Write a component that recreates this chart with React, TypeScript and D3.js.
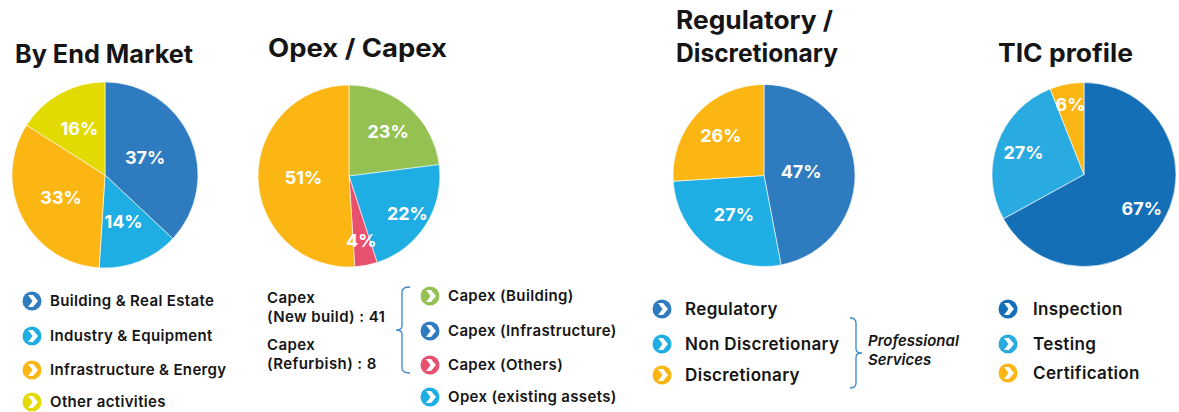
import * as d3 from "d3";

// By End Market
const marketLabels = ["Building & Real Estate", "Industry & Equipment", "Infrastructure & Energy", "Other activities"];
const marketValues = [37, 14, 33, 16];
const marketColors = ["#2E7BC0", "#1EAEE3", "#FBB614", "#E2DA00"];

// Opex / Capex
const capexSliceValues = [23, 22, 4, 51];
const capexSliceColors = ["#95C152", "#1EAEE3", "#E8506F", "#FBB614"];
const capexLabels = ["Capex (Building)", "Capex (Infrastructure)", "Capex (Others)", "Opex (existing assets)"];
const capexLegendColors = ["#95C152", "#2E7BC0", "#E8506F", "#1EAEE3"];
const capexNotes = [["Capex", "(New build) : 41"], ["Capex", "(Refurbish) : 8"]];

// Regulatory / Discretionary
const regLabels = ["Regulatory", "Non Discretionary", "Discretionary"];
const regValues = [47, 27, 26];
const regColors = ["#2E7BC0", "#1EAEE3", "#FBB614"];
const regNote = ["Professional", "Services"];

// TIC profile
const ticLabels = ["Inspection", "Testing", "Certification"];
const ticValues = [67, 27, 6];
const ticColors = ["#156FB7", "#29AAE1", "#FBB614"];

const FONT = "Inter, 'Open Sans', sans-serif";
const INK = "#151515";

type PieProps = {
  cx: number;
  cy: number;
  r: number;
  values: number[];
  colors: string[];
  labelR: number[];
};

function Pie({ cx, cy, r, values, colors, labelR }: PieProps) {
  const arcs = d3.pie<number>().sort(null).value((d) => d)(values);
  const arc = d3.arc<d3.PieArcDatum<number>>().innerRadius(0).outerRadius(r);
  return (
    <g transform={`translate(${cx},${cy})`}>
      {arcs.map((a, i) => (
        <path key={i} d={arc(a) || ""} fill={colors[i]} stroke="#fff" strokeWidth={0.6} />
      ))}
      {arcs.map((a, i) => {
        const mid = (a.startAngle + a.endAngle) / 2;
        const rr = r * labelR[i];
        return (
          <text
            key={"t" + i}
            x={Math.sin(mid) * rr}
            y={-Math.cos(mid) * rr}
            dy="0.36em"
            textAnchor="middle"
            fill="#fff"
            fontFamily={FONT}
            fontWeight={700}
            fontSize={18}
          >
            {values[i]}%
          </text>
        );
      })}
    </g>
  );
}

function Icon({ x, y, color }: { x: number; y: number; color: string }) {
  return (
    <g transform={`translate(${x},${y})`}>
      <circle r={9.5} fill={color} />
      <path d="M-4,-6 L1,-6 L6,0 L1,6 L-4,6 L0.5,0 Z" fill="#fff" />
    </g>
  );
}

type LegendProps = {
  x: number;
  tx: number;
  ys: number[];
  labels: string[];
  colors: string[];
  size: number;
};

function Legend({ x, tx, ys, labels, colors, size }: LegendProps) {
  return (
    <g>
      {labels.map((l, i) => (
        <g key={i}>
          <Icon x={x} y={ys[i]} color={colors[i]} />
          <text
            x={tx}
            y={ys[i]}
            dy="0.35em"
            fontFamily={FONT}
            fontWeight={600}
            fontSize={size}
            letterSpacing={0.35}
            fill={INK}
          >
            {l}
          </text>
        </g>
      ))}
    </g>
  );
}

// titles stretched to the width they take in the original layout
function Title({ x, y, text, w }: { x: number; y: number; text: string; w: number }) {
  return (
    <text x={x} y={y} fontFamily={FONT} fontWeight={700} fontSize={25} fill={INK} textLength={w} lengthAdjust="spacingAndGlyphs">
      {text}
    </text>
  );
}

export default function App() {
  return (
    <svg width={1179} height={412} style={{ position: "absolute", left: 0, top: 0, background: "#fff" }}>
      {/* panel 1 */}
      <Title x={15} y={63} text="By End Market" w={178} />
      <Pie cx={105} cy={175} r={93} values={marketValues} colors={marketColors} labelR={[0.47, 0.54, 0.53, 0.57]} />
      <Legend x={32} tx={50} ys={[301, 336, 370, 402]} labels={marketLabels} colors={marketColors} size={15} />

      {/* panel 2 */}
      <Title x={268} y={57} text="Opex / Capex" w={179} />
      <Pie cx={349} cy={176} r={91} values={capexSliceValues} colors={capexSliceColors} labelR={[0.65, 0.76, 0.72, 0.5]} />
      {capexNotes.map((n, i) => (
        <text key={i} x={267} y={303 + i * 47} fontFamily={FONT} fontWeight={600} fontSize={15} letterSpacing={0.4} fill={INK}>
          <tspan x={267}>{n[0]}</tspan>
          <tspan x={267} dy={19}>{n[1]}</tspan>
        </text>
      ))}
      <path
        d="M410,287 Q402,287 402,292 L402,326 Q402,330 396,330 Q402,330 402,334 L402,368 Q402,373 410,373"
        fill="none"
        stroke="#3B86C8"
        strokeWidth={1.3}
      />
      <Legend x={430} tx={448} ys={[296, 331, 365, 397]} labels={capexLabels} colors={capexLegendColors} size={15} />

      {/* panel 3 */}
      <Title x={676} y={29} text="Regulatory /" w={157} />
      <Title x={676} y={62} text="Discretionary" w={162} />
      <Pie cx={764} cy={175.5} r={91} values={regValues} colors={regColors} labelR={[0.41, 0.54, 0.65]} />
      <Legend x={662} tx={685} ys={[309, 344, 375]} labels={regLabels} colors={regColors} size={17} />
      <path
        d="M850,318 Q856,318 856,323 L856,349 Q856,353 862,353 Q856,353 856,357 L856,383 Q856,388 850,388"
        fill="none"
        stroke="#3B86C8"
        strokeWidth={1.3}
      />
      <text x={868} y={346} fontFamily={FONT} fontWeight={600} fontStyle="italic" fontSize={15} fill={INK}>
        <tspan x={868}>{regNote[0]}</tspan>
        <tspan x={868} dy={19}>{regNote[1]}</tspan>
      </text>

      {/* panel 4 */}
      <Title x={998} y={62} text="TIC profile" w={135} />
      <Pie cx={1084} cy={174.5} r={92} values={ticValues} colors={ticColors} labelR={[0.73, 0.7, 0.78]} />
      <Legend x={1008} tx={1033} ys={[309, 344, 373]} labels={ticLabels} colors={ticColors} size={17} />
    </svg>
  );
}
